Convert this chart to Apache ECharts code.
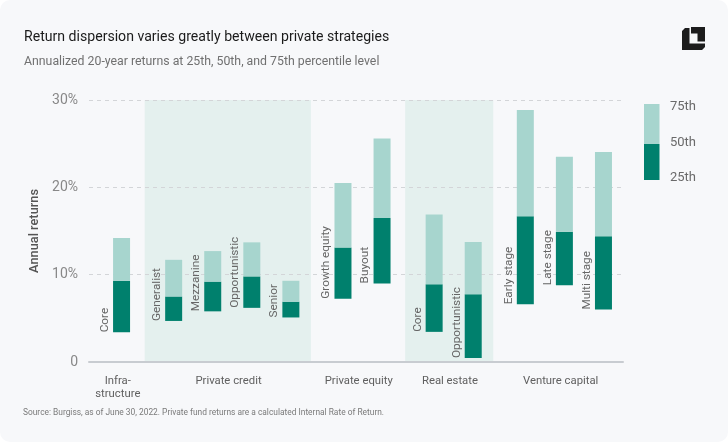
<!DOCTYPE html>
<html><head><meta charset="utf-8">
<script src="https://cdn.jsdelivr.net/npm/echarts@6/dist/echarts.min.js"></script>
<style>html,body{margin:0;padding:0;background:#fff}#c{width:728px;height:442px;background:#f7f8fa;border-radius:10px;overflow:hidden}</style>
</head><body><div id="c"></div><script>
// ---- data ----
const groupNames = ['Infra-\nstructure', 'Private credit', 'Private equity', 'Real estate', 'Venture capital'];
const groupSizes = [1, 4, 2, 2, 3];
const shadedGroups = [1, 3];
const barNames = ['Core', 'Generalist', 'Mezzanine', 'Opportunistic', 'Senior', 'Growth equity', 'Buyout', 'Core', 'Opportunistic', 'Early stage', 'Late stage', 'Multi stage'];
const p25 = [3.4, 4.7, 5.8, 6.2, 5.1, 7.25, 9.0, 3.45, 0.45, 6.6, 8.8, 6.0];
const p50 = [9.3, 7.5, 9.2, 9.8, 6.9, 13.1, 16.5, 8.9, 7.75, 16.7, 14.9, 14.4];
const p75 = [14.2, 11.7, 12.7, 13.7, 9.3, 20.5, 25.6, 16.9, 13.75, 28.85, 23.5, 24.05];
const yTicks = [0, 10, 20, 30];
const legendLabels = ['75th', '50th', '25th'];
const TITLE = 'Return dispersion varies greatly between private strategies';
const SUBTITLE = 'Annualized 20-year returns at 25th, 50th, and 75th percentile level';
const SOURCE = 'Source: Burgiss, as of June 30, 2022. Private fund returns are a calculated Internal Rate of Return.';

const FONT = 'Roboto, "Noto Sans", sans-serif';
const DARK = '#00806d', LIGHT = '#a7d5ce', SHADE = '#e4f0ee';

// ---- build category slots (spacer slots between groups) ----
const slots = [];      // bar index or null
const barSlot = [];    // slot index of each bar
const groupBars = [];  // [first bar, last bar]
slots.push(null);
let b = 0;
groupSizes.forEach((n, g) => {
  if (g > 0) slots.push(null);
  const first = b;
  for (let k = 0; k < n; k++) {
    slots.push(null); slots.push(b); barSlot.push(slots.length - 1); slots.push(null); b++;
  }
  groupBars.push([first, b - 1]);
});
const slotNames = slots.map((_, i) => 's' + i);
const baseData = slots.map(i => i === null ? '-' : p25[i]);
const darkData = slots.map(i => i === null ? '-' : +(p50[i] - p25[i]).toFixed(3));
const lightData = slots.map(i => i === null ? '-' : +(p75[i] - p50[i]).toFixed(3));

const chart = echarts.init(document.getElementById('c'), null, {renderer: 'canvas'});
chart.setOption({
  backgroundColor: 'transparent',
  animation: false,
  textStyle: {fontFamily: FONT},
  title: [
    {text: TITLE, left: 24, top: 30, padding: 0, textStyle: {fontFamily: FONT, fontSize: 14.1, fontWeight: 400, color: '#1b1b1b'}},
    {text: SUBTITLE, left: 24, top: 56, padding: 0, textStyle: {fontFamily: FONT, fontSize: 12.3, fontWeight: 400, color: '#707070'}},
    {text: SOURCE, left: 23, top: 409, padding: 0, textStyle: {fontFamily: FONT, fontSize: 8.4, fontWeight: 400, color: '#7a7a7a'}}
  ],
  grid: {left: 89, right: 105, top: 100, bottom: 80, containLabel: false},
  xAxis: {
    type: 'category', data: slotNames, z: 1,
    axisLine: {lineStyle: {color: '#c8ccd1', width: 2}},
    axisTick: {show: false}, axisLabel: {show: false}, splitLine: {show: false}
  },
  yAxis: {
    type: 'value', min: yTicks[0], max: yTicks[yTicks.length - 1], interval: 10, z: 1,
    name: 'Annual returns', nameLocation: 'middle', nameGap: 43, nameRotate: 90,
    nameTextStyle: {fontFamily: FONT, fontSize: 12.8, fontWeight: 500, color: '#555'},
    axisLabel: {formatter: v => v === 0 ? '0' : v + '%', color: '#888', fontSize: 14, margin: 11, fontFamily: FONT},
    axisLine: {show: false}, axisTick: {show: false},
    splitLine: {lineStyle: {type: [4, 4], color: '#d3d5d8', width: 1}}
  },
  series: [
    {type: 'bar', stack: 'r', data: baseData, barWidth: 17, itemStyle: {color: 'transparent'}, silent: true},
    {type: 'bar', stack: 'r', data: darkData, barWidth: 17, itemStyle: {color: DARK},
      label: {show: true, formatter: p => barNames[slots[p.dataIndex]], position: [-8, '100%'], rotate: 90,
        align: 'left', verticalAlign: 'middle', fontSize: 11.8, color: '#666', fontFamily: FONT}},
    {type: 'bar', stack: 'r', data: lightData, barWidth: 17, itemStyle: {color: LIGHT}}
  ]
});

// ---- overlays positioned through the chart's own scales ----
const xp = s => chart.convertToPixel({xAxisIndex: 0}, s);
const yp = v => chart.convertToPixel({yAxisIndex: 0}, v);
const y0 = yp(yTicks[0]), yTop = yp(yTicks[yTicks.length - 1]);
const gfx = [];
shadedGroups.forEach(g => {
  const [f, l] = groupBars[g];
  const x1 = xp(barSlot[f]) - 29, x2 = xp(barSlot[l]) + 20;
  gfx.push({type: 'rect', z: 0, silent: true, shape: {x: x1, y: yTop, width: x2 - x1, height: y0 - yTop}, style: {fill: SHADE}});
});
groupNames.forEach((name, g) => {
  const [f, l] = groupBars[g];
  const cx = (xp(barSlot[f]) + xp(barSlot[l])) / 2 - 3.75;
  gfx.push({type: 'text', z: 5, x: cx, y: y0 + 13, style: {text: name, fill: '#606060', font: '11.3px ' + FONT, align: 'center', verticalAlign: 'top', lineHeight: 12.5}});
});
// legend
const lx = 644, lw = 15.5;
gfx.push({type: 'rect', z: 5, shape: {x: lx, y: 104, width: lw, height: 40}, style: {fill: LIGHT}});
gfx.push({type: 'rect', z: 5, shape: {x: lx, y: 144, width: lw, height: 36}, style: {fill: DARK}});
[107, 143, 178].forEach((yy, i) => {
  gfx.push({type: 'text', z: 5, x: 670, y: yy, style: {text: legendLabels[i], fill: '#6a6a6a', font: '13px ' + FONT, align: 'left', verticalAlign: 'middle'}});
});
// logo
gfx.push({type: 'polygon', z: 5, shape: {points: [[682, 31], [685, 28], [689.5, 28], [689.5, 43.5], [705, 43.5], [705, 47], [702, 50], [682, 50]]}, style: {fill: '#1c1c1c'}});
gfx.push({type: 'polygon', z: 5, shape: {points: [[691, 27], [705, 27], [705, 41.5], [697.5, 41.5], [697.5, 33.5], [691, 33.5]]}, style: {fill: '#1c1c1c'}});
chart.setOption({graphic: {elements: gfx}});
</script></body></html>
